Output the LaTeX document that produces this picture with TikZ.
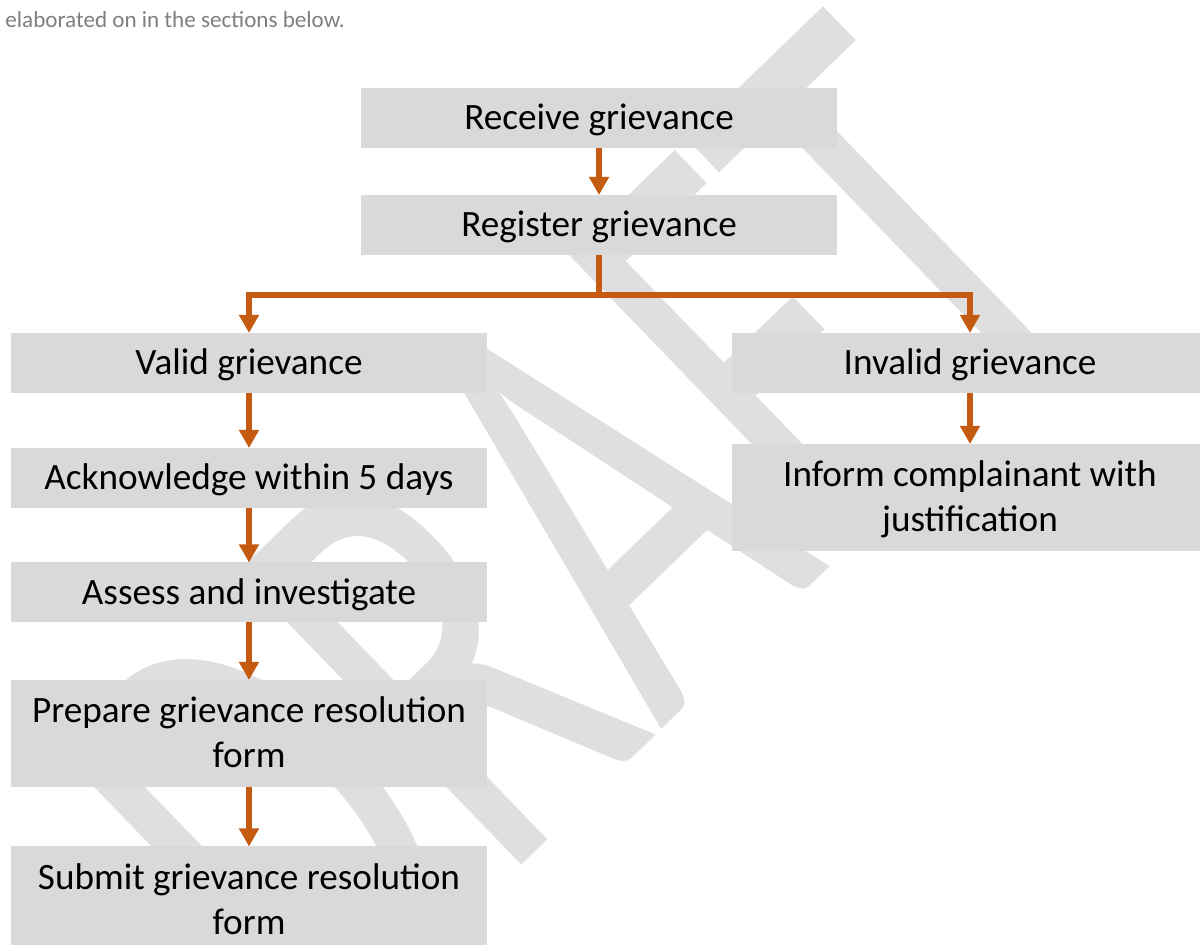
\documentclass[tikz,border=0pt]{standalone}
\usepackage{fontspec}
\setmainfont{Carlito}
\usetikzlibrary{arrows.meta}
\definecolor{boxgray}{HTML}{D9D9D9}
\definecolor{wmgray}{HTML}{DFDFDF}
\definecolor{arrorange}{HTML}{C55A11}
\definecolor{txtgray}{HTML}{7F7F7F}
\begin{document}
\begin{tikzpicture}[x=0.5pt,y=-0.5pt,
  boxn/.style={fill=boxgray, minimum width=238pt, inner sep=0pt, outer sep=0pt},
  one/.style={boxn, minimum height=30pt},
  two/.style={boxn, minimum height=53.5pt},
  lbl/.style={font=\fontsize{18.6}{22.3}\selectfont, text height=12pt, text depth=0pt, inner sep=0pt},
  arr/.style={draw=arrorange, line width=2.7pt, -{Triangle[width=9.5pt,length=9pt]}},
]
\useasboundingbox (0,0) rectangle (1200,945);
\clip (0,0) rectangle (1200,945);
\fill[white] (0,0) rectangle (1200,945);
% watermark
\begin{scope}[shift={(319,1061)}, rotate=44, yscale=1.55]
\node[transform shape, anchor=base west, inner sep=0pt, text=wmgray, font=\fontsize{205}{205}\selectfont] (wm) at (0,0) {DRAFT};
\end{scope}
% intro text
\node[anchor=base west, inner sep=0pt, text=txtgray, font=\fontsize{11.55}{14}\selectfont] (intro) at (5,28) {elaborated on in the sections below.};
% boxes
\node[one, lbl] (recv) at (599,118) {Receive grievance};
\node[one, lbl] (reg) at (599,225) {Register grievance};
\node[one, lbl] (valid) at (249,363) {Valid grievance};
\node[one, lbl] (ack) at (249,478) {Acknowledge within 5 days};
\node[one, lbl] (assess) at (249,592.5) {Assess and investigate};
\node[two] (prep) at (249,733.5) {};
\node[lbl] (prepa) at (249,711) {Prepare grievance resolution};
\node[lbl] (prepb) at (249,756) {form};
\node[two] (subm) at (249,900) {};
\node[lbl] (subma) at (249,877.5) {Submit grievance resolution};
\node[lbl] (submb) at (249,922.5) {form};
\node[one, lbl] (inval) at (970,363) {Invalid grievance};
\node[two] (inform) at (970,497.5) {};
\node[lbl] (informa) at (970,475) {Inform complainant with};
\node[lbl] (informb) at (970,520) {justification};
% connectors
\coordinate (bar) at (599,295);
\draw[arr] (recv) -- (reg);
\draw[arr] (reg.south) -- (bar) -| (valid.north);
\draw[arr] (reg.south) -- (bar) -| (inval.north);
\draw[arr] (valid) -- (ack);
\draw[arr] (ack) -- (assess);
\draw[arr] (assess) -- (prep);
\draw[arr] (prep) -- (subm);
\draw[arr] (inval) -- (inform);
\end{tikzpicture}
\end{document}
